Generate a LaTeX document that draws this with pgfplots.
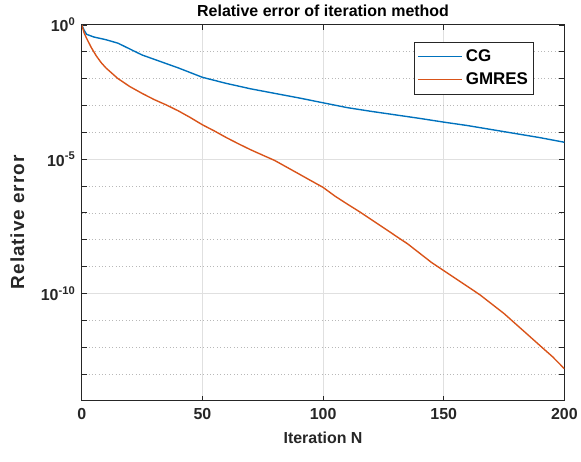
\documentclass[border=0pt]{standalone}
\usepackage{pgfplots}
\pgfplotsset{compat=1.18}
\usepackage{fontspec}
\setmainfont{Liberation Sans}
\definecolor{mblue}{rgb}{0,0.447,0.741}
\definecolor{morange}{rgb}{0.85,0.325,0.098}
\definecolor{axgray}{rgb}{0.15,0.15,0.15}
\begin{document}
\begin{tikzpicture}
\begin{axis}[
  name=ax,
  scale only axis,
  width=484bp, height=377bp,
  xmin=0, xmax=200,
  ymode=log, ymin=1e-14, ymax=1,
  xtick={0,50,100,150,200},
  ytick={1e-10,1e-5,1},
  yticklabels={10\textsuperscript{-10},10\textsuperscript{-5},10\textsuperscript{0}},
  minor ytick={1e-13,1e-12,1e-11,1e-9,1e-8,1e-7,1e-6,1e-4,1e-3,1e-2,1e-1},
  xminorticks=false,
  grid=both,
  major grid style={color=black!12, line width=0.9pt},
  minor grid style={color=black!28, dash pattern=on 0.8pt off 2.6pt, line width=0.7pt},
  axis line style={color=axgray, line width=1.1pt},
  tick style={color=axgray, line width=0.8pt},
  major tick length=5bp, minor tick length=5bp,
  tick align=inside,
  /pgf/number format/assume math mode=true,
  ticklabel style={font=\fontsize{16bp}{18bp}\selectfont\bfseries, color=axgray},
  xticklabel style={yshift=-4bp},
  yticklabel style={xshift=-3bp},
  title={Relative error of iteration method},
  title style={font=\fontsize{16bp}{18bp}\selectfont\bfseries, yshift=-1bp},
  xlabel={Iteration N},
  ylabel={Relative error},
  xlabel style={font=\fontsize{16bp}{18bp}\selectfont\bfseries, color=axgray, yshift=-5bp},
  ylabel style={font=\fontsize{19bp}{21bp}\selectfont\bfseries\addfontfeatures{LetterSpace=5},
    color=axgray, at={(axis description cs:-0.1116,0.475)}, anchor=south},
  legend style={at={(0.938,0.955)}, anchor=north east, draw=axgray, line width=1pt,
    font=\fontsize{17bp}{19bp}\selectfont\bfseries, row sep=0bp, inner sep=3bp,
    nodes={inner sep=3bp, text height=13bp, text depth=4bp}},
  legend cell align=left,
  legend image code/.code={\draw[#1, line width=1pt] (0bp,0bp) -- (44bp,0bp);},
]
\addplot[color=mblue, line width=1.4pt] coordinates {
(0,1) (1,0.631) (2,0.447) (5,0.355) (10,0.282) (15,0.209) (20,0.126) (25,0.0759)
(30,0.0525) (40,0.0251) (50,0.0112) (60,6.61e-3) (70,4.17e-3) (80,2.82e-3)
(90,1.91e-3) (100,1.26e-3) (110,8.32e-4) (120,6.03e-4) (130,4.47e-4) (140,3.31e-4)
(150,2.40e-4) (160,1.78e-4) (170,1.26e-4) (180,8.91e-5) (190,6.31e-5) (200,4.27e-5)
};
\addlegendentry{CG}
\addplot[color=morange, line width=1.4pt] coordinates {
(0,1) (1,0.501) (2,0.316) (4,0.141) (6,0.0708) (8,0.0398) (10,0.0251) (15,0.01)
(20,5.01e-3) (25,2.82e-3) (30,1.66e-3) (35,1.05e-3) (40,6.31e-4) (45,3.55e-4)
(50,1.91e-4) (55,1.12e-4) (60,6.31e-5) (65,3.72e-5) (70,2.24e-5) (75,1.41e-5)
(80,8.91e-6) (85,5.01e-6) (90,2.82e-6) (95,1.58e-6) (100,8.91e-7) (105,4.17e-7)
(110,2.14e-7) (115,1.12e-7) (120,5.62e-8) (125,2.82e-8) (130,1.41e-8) (135,7.08e-9)
(140,3.16e-9) (145,1.41e-9) (150,7.08e-10) (155,3.55e-10) (160,1.78e-10) (165,8.91e-11)
(170,3.98e-11) (175,1.78e-11) (180,7.08e-12) (185,2.82e-12) (190,1.12e-12)
(195,4.47e-13) (200,1.58e-13)
};
\addlegendentry{GMRES}
\end{axis}
\path ([xshift=-82bp,yshift=-61bp]ax.south west) ([xshift=15bp,yshift=25bp]ax.north east);
\end{tikzpicture}
\end{document}
